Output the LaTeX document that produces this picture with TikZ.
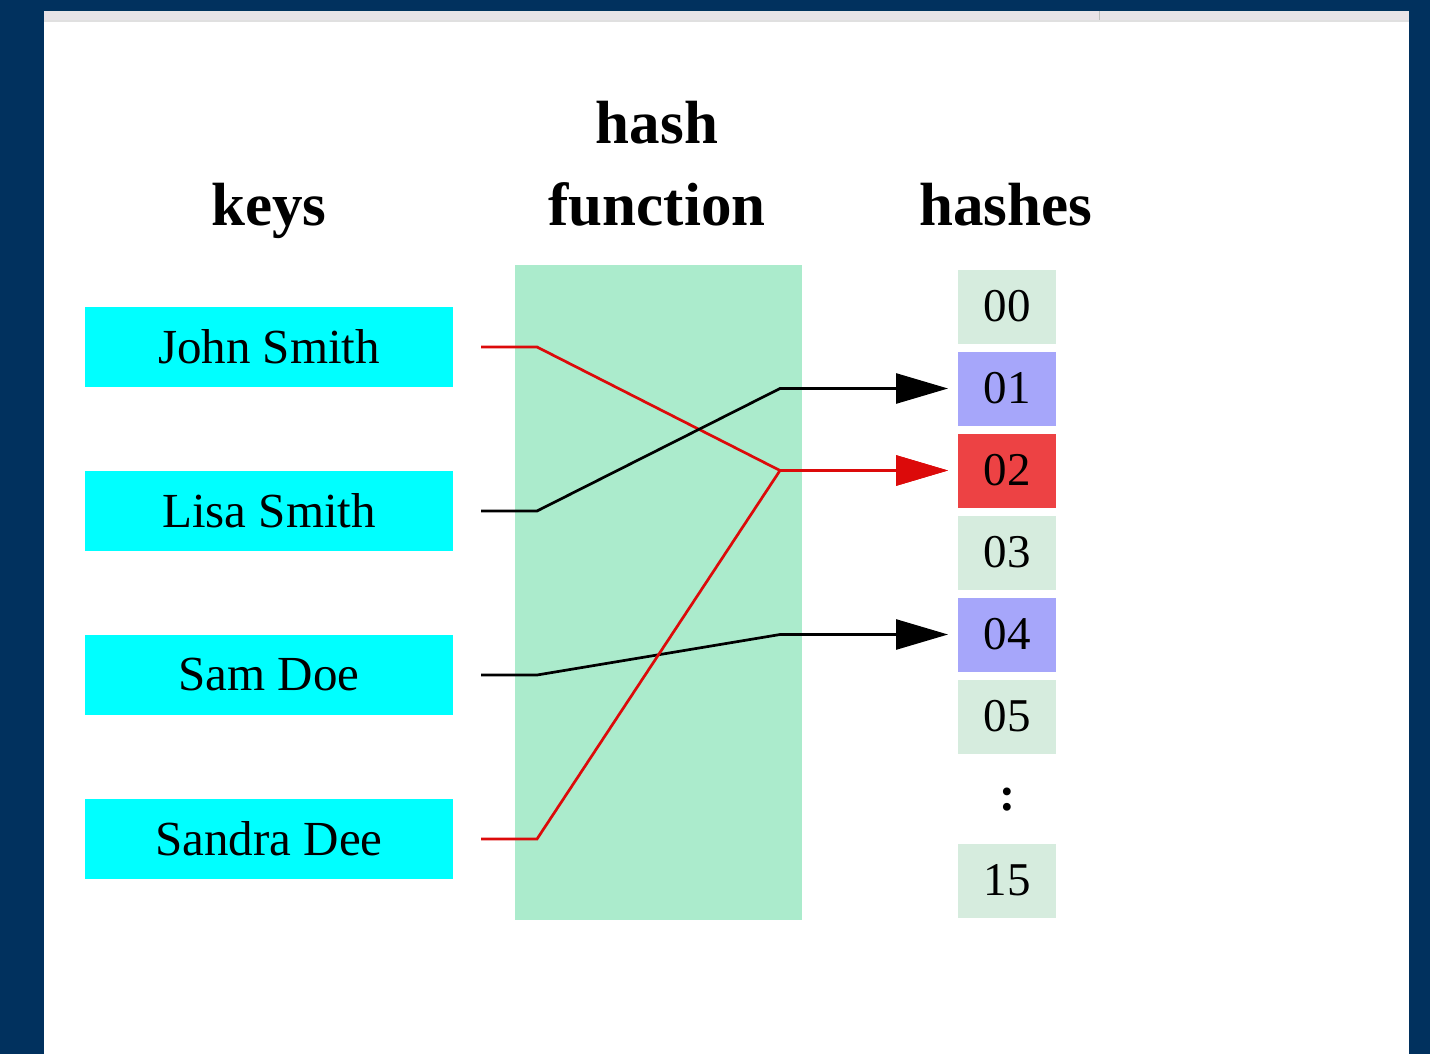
\documentclass[tikz,border=0pt]{standalone}
\usepackage{fontspec}
\setmainfont{Liberation Serif}
\usetikzlibrary{arrows.meta}
\usetikzlibrary{positioning}
\definecolor{pagenavy}{RGB}{1,49,94}
\definecolor{barpink}{RGB}{232,226,232}
\definecolor{keycyan}{RGB}{0,255,255}
\definecolor{hashgreen}{RGB}{171,235,204}
\definecolor{slotgreen}{RGB}{214,236,222}
\definecolor{slotblue}{RGB}{166,166,250}
\definecolor{slotred}{RGB}{237,66,68}
\definecolor{linkred}{RGB}{220,10,10}

\begin{document}
\begin{tikzpicture}[x=0.5pt, y=-0.5pt, node distance=42pt, line width=1.35pt,
    key/.style={rectangle, fill=keycyan, minimum width=184pt, minimum height=40pt,
    inner sep=0pt, outer sep=0pt, font=\fontsize{24.5}{28}\selectfont},
    slot/.style={rectangle, fill=slotgreen, minimum width=49pt, minimum height=37pt,
    inner sep=0pt, outer sep=0pt, font=\fontsize{23.5}{28}\selectfont},
    title/.style={anchor=base, font=\fontsize{30.5}{36}\selectfont\bfseries},
    link/.style={-{Triangle[length=26pt, width=15pt]}, shorten <=14pt, shorten >=5pt}]

    % page around the figure
    \fill[pagenavy] (0,0) rectangle (1430,1054);
    \fill[white] (44,11) rectangle (1409,1054);
    \fill[barpink] (44,11) rectangle (1409,20);
    \fill[black!12] (44,20) rectangle (1409,22);
    \draw[black!25, line width=0.5pt] (1099,11) -- (1099,20);

    \node[title] (KEYS) at (269,225) {keys};
    \node[title] (HASH) at (657,143) {hash};
    \node[title] (FUNC) at (657,225) {function};
    \node[title] (HASHES) at (1006,225) {hashes};

    \node[fill=hashgreen, minimum width=143.5pt, minimum height=327.5pt, inner sep=0pt]
        (HF) at (658.5,592.5) {};

    \node[key] (K1) at (269,347) {John Smith};
    \node[key] (K2) [below=of K1] {Lisa Smith};
    \node[key] (K3) [below=of K2] {Sam Doe};
    \node[key] (K4) [below=of K3] {Sandra Dee};

    \node[slot] (H00) at (1007,306.5) {00};
    \node[slot, fill=slotblue] (H01) [below=4pt of H00] {01};
    \node[slot, fill=slotred] (H02) [below=4pt of H01] {02};
    \node[slot] (H03) [below=4pt of H02] {03};
    \node[slot, fill=slotblue] (H04) [below=4pt of H03] {04};
    \node[slot] (H05) [below=4pt of H04] {05};
    \node[font=\fontsize{24}{28}\selectfont\bfseries, inner sep=0pt] (DOTS) at (1007,800) {:};
    \node[slot] (H15) at (1007,880.5) {15};

    \coordinate (IN) at (537,0);
    \coordinate (OUT) at (780,0);

    \draw[link, linkred] (K1.east) -- (K1.east -| IN) -- (H02.west -| OUT) -- (H02.west);
    \draw[link] (K2.east) -- (K2.east -| IN) -- (H01.west -| OUT) -- (H01.west);
    \draw[link] (K3.east) -- (K3.east -| IN) -- (H04.west -| OUT) -- (H04.west);
    \draw[link, linkred] (K4.east) -- (K4.east -| IN) -- (H02.west -| OUT) -- (H02.west);
\end{tikzpicture}
\end{document}
